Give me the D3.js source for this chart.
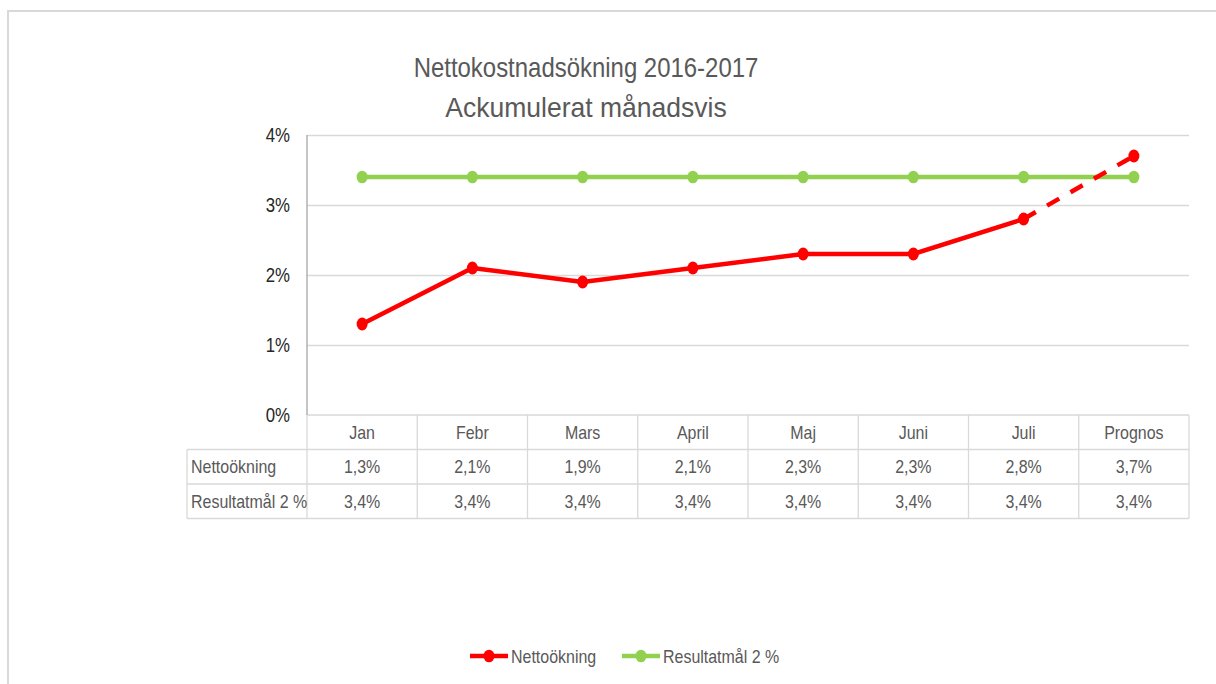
<!DOCTYPE html>
<html>
<head>
<meta charset="utf-8">
<script src="https://cdn.jsdelivr.net/npm/d3@7"></script>
<style>
  body { margin: 0; background: #fff; }
  svg { display: block; font-family: "Liberation Sans", Arial, sans-serif; }
</style>
</head>
<body>
<div id="chart"></div>
<script>
// data
const months = ["Jan", "Febr", "Mars", "April", "Maj", "Juni", "Juli", "Prognos"];
const netto = [0.013, 0.021, 0.019, 0.021, 0.023, 0.023, 0.028, 0.037];
const resultat = [0.034, 0.034, 0.034, 0.034, 0.034, 0.034, 0.034, 0.034];
const yTicks = [0, 0.01, 0.02, 0.03, 0.04];
const seriesNames = ["Nettoökning", "Resultatmål 2 %"];
const titleLines = ["Nettokostnadsökning 2016-2017", "Ackumulerat månadsvis"];

const W = 1216, H = 684;
const plot = { left: 307, right: 1189, top: 135, bottom: 415 };
const rowH = 34.5;
const labelLeft = 187;
const red = "#ff0000", green = "#92d050", gray = "#595959", gridc = "#d9d9d9";
const squeeze = 0.84; // narrow the text, the original font is condensed

const fmt = d3.formatLocale({ decimal: ",", thousands: " ", grouping: [3], currency: ["", " kr"] }).format(".1%");
const fmtTick = d3.format(".0%");

const svg = d3.select("#chart").append("svg").attr("width", W).attr("height", H);

// chart frame
svg.append("rect")
  .attr("x", 8).attr("y", 11)
  .attr("width", W + 20).attr("height", H + 20)
  .attr("fill", "#fff").attr("stroke", gridc).attr("stroke-width", 2);

// title
svg.append("g").selectAll("text")
  .data(titleLines)
  .enter()
  .append("text")
  .attr("class", (d, i) => "title" + i)
  .attr("x", 586)
  .attr("y", (d, i) => 77 + i * 40)
  .attr("text-anchor", "middle")
  .attr("fill", gray)
  .style("font-size", "28.5px")
  .text(d => d);

const x = d3.scaleBand().domain(months).range([plot.left, plot.right]).padding(0);
const y = d3.scaleLinear().domain([0, 0.04]).range([plot.bottom, plot.top]);
const cx = d => x(d) + x.bandwidth() / 2;

// gridlines
svg.append("g")
  .attr("transform", "translate(" + plot.left + ",0)")
  .call(d3.axisLeft(y).tickValues(yTicks.filter(t => t > 0)).tickSize(-(plot.right - plot.left)).tickFormat(""))
  .call(g => g.select(".domain").remove())
  .call(g => g.selectAll(".tick line").attr("stroke", gridc).attr("stroke-width", 1.3));

// y tick labels
svg.append("g")
  .attr("transform", "translate(" + plot.left + ",0)")
  .call(d3.axisLeft(y).tickValues(yTicks).tickSize(0).tickPadding(17).tickFormat(fmtTick))
  .call(g => g.select(".domain").remove())
  .call(g => g.selectAll("text").attr("fill", "#262626").style("font-size", "20px").style("font-family", "Liberation Sans, Arial, sans-serif"));

// data table
const table = svg.append("g");
const rowsY = [plot.bottom, plot.bottom + rowH, plot.bottom + 2 * rowH, plot.bottom + 3 * rowH];
table.append("line")
  .attr("x1", plot.left).attr("x2", plot.right)
  .attr("y1", rowsY[0]).attr("y2", rowsY[0])
  .attr("stroke", gridc).attr("stroke-width", 1.3);
table.selectAll(".hline")
  .data(rowsY.slice(1))
  .enter()
  .append("line")
  .attr("x1", labelLeft).attr("x2", plot.right)
  .attr("y1", d => d).attr("y2", d => d)
  .attr("stroke", gridc).attr("stroke-width", 1.3);
table.selectAll(".vline")
  .data(months.map(m => x(m)).concat([plot.right]))
  .enter()
  .append("line")
  .attr("x1", d => d).attr("x2", d => d)
  .attr("y1", rowsY[0]).attr("y2", rowsY[3])
  .attr("stroke", gridc).attr("stroke-width", 1.3);
table.append("line")
  .attr("x1", labelLeft).attr("x2", labelLeft)
  .attr("y1", rowsY[1]).attr("y2", rowsY[3])
  .attr("stroke", gridc).attr("stroke-width", 1.3);

// y axis line
svg.append("line")
  .attr("x1", plot.left).attr("x2", plot.left)
  .attr("y1", plot.top).attr("y2", plot.bottom)
  .attr("stroke", "#a6a6a6").attr("stroke-width", 1.3);

// header row
table.selectAll(".cat")
  .data(months)
  .enter()
  .append("text")
  .attr("x", cx)
  .attr("y", rowsY[0] + rowH / 2)
  .attr("dy", "0.35em")
  .attr("text-anchor", "middle")
  .attr("fill", gray)
  .style("font-size", "19px")
  .text(d => d);

[netto, resultat].forEach((vals, r) => {
  const rowTop = rowsY[r + 1];
  table.append("text")
    .attr("x", labelLeft + 4)
    .attr("y", rowTop + rowH / 2)
    .attr("dy", "0.35em")
    .attr("fill", gray)
    .style("font-size", "19px")
    .text(seriesNames[r]);
  table.selectAll(".v" + r)
    .data(vals)
    .enter()
    .append("text")
    .attr("x", (d, i) => cx(months[i]))
    .attr("y", rowTop + rowH / 2)
    .attr("dy", "0.35em")
    .attr("text-anchor", "middle")
    .attr("fill", gray)
    .style("font-size", "19px")
    .text(d => fmt(d));
});

// lines
const line = d3.line().x(d => cx(d.m)).y(d => y(d.v));
const greenPts = months.map((m, i) => ({ m: m, v: resultat[i] }));
const redPts = months.map((m, i) => ({ m: m, v: netto[i] }));

svg.append("path")
  .datum(greenPts)
  .attr("d", line)
  .attr("fill", "none").attr("stroke", green).attr("stroke-width", 4.5);
svg.selectAll(".gdot")
  .data(greenPts)
  .enter()
  .append("ellipse")
  .attr("cx", d => cx(d.m)).attr("cy", d => y(d.v))
  .attr("rx", 5.5).attr("ry", 6.3)
  .attr("fill", green);

// actual values solid, forecast dashed
svg.append("path")
  .datum(redPts.slice(0, 7))
  .attr("d", line)
  .attr("fill", "none").attr("stroke", red).attr("stroke-width", 4.5)
  .attr("stroke-linejoin", "round");
svg.append("path")
  .datum(redPts.slice(6))
  .attr("d", line)
  .attr("fill", "none").attr("stroke", red).attr("stroke-width", 4.5)
  .attr("stroke-dasharray", "14,13");
svg.selectAll(".rdot")
  .data(redPts)
  .enter()
  .append("ellipse")
  .attr("cx", d => cx(d.m)).attr("cy", d => y(d.v))
  .attr("rx", 5.5).attr("ry", 6.5)
  .attr("fill", red);

// legend
const legend = svg.append("g");
const legendItems = [
  { name: seriesNames[0], color: red, x: 470 },
  { name: seriesNames[1], color: green, x: 622 }
];
legendItems.forEach(it => {
  legend.append("line")
    .attr("x1", it.x).attr("x2", it.x + 38)
    .attr("y1", 656).attr("y2", 656)
    .attr("stroke", it.color).attr("stroke-width", 4.5);
  legend.append("ellipse")
    .attr("cx", it.x + 19).attr("cy", 656)
    .attr("rx", 5.5).attr("ry", 6.3)
    .attr("fill", it.color);
  legend.append("text")
    .attr("x", it.x + 41).attr("y", 656)
    .attr("dy", "0.35em")
    .attr("fill", gray)
    .style("font-size", "19px")
    .text(it.name);
});

// condense every text to look like the narrow original font
svg.selectAll("text").each(function () {
  const len = this.getComputedTextLength();
  const k = this.classList.contains("title1") ? 0.93 : squeeze;
  if (len > 0) d3.select(this).attr("textLength", len * k).attr("lengthAdjust", "spacingAndGlyphs");
});
</script>
</body>
</html>
